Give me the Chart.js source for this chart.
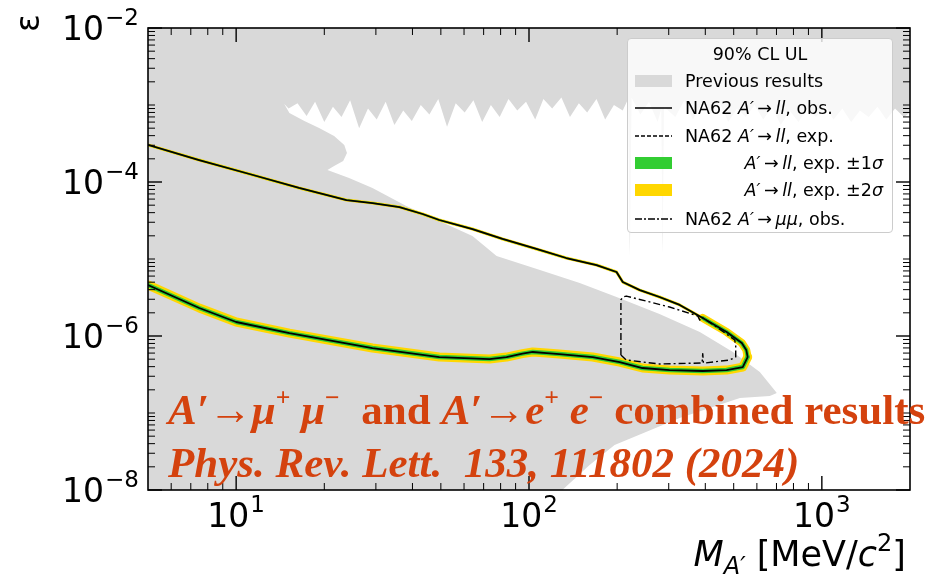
<!DOCTYPE html>
<html lang="en">
<head>
<meta charset="UTF-8">
<title>NA62 A' limits</title>
<script src="https://cdn.jsdelivr.net/npm/chart.js"></script>
<style>
  body { margin: 0; background: #fff; }
  #wrap { position: relative; width: 934px; height: 582px; }
  #legend { position: absolute; left: 627px; top: 38px; width: 266px; height: 195px; box-sizing: border-box;
            background: rgba(255,255,255,0.8); border: 1px solid #cccccc; border-radius: 4px;
            font-family: "DejaVu Sans", sans-serif; font-size: 17.5px; color: #000; }
  .row { position: absolute; left: 0; width: 100%; height: 24px; line-height: 24px; }
  .row svg { position: absolute; left: 7px; top: 4px; }
  .row .txt { position: absolute; left: 57px; white-space: nowrap; }
  .row .txt.r { left: auto; right: 9px; }
  .row .txt.c { left: 0; right: 0; text-align: center; }
  #note { position: absolute; left: 168px; top: 386px; font-family: "Liberation Serif", serif; font-weight: bold;
          font-size: 43px; line-height: 47px; color: #d4420e; white-space: nowrap; }
  #note sup { font-size: 0.6em; vertical-align: 0; position: relative; top: -0.7em; }
</style>
</head>
<body>
<div id="wrap">
  <canvas id="limitChart" width="934" height="582"></canvas>

  <div id="legend">
    <div class="row" style="top:3px"><span class="txt c">90% CL UL</span></div>
    <div class="row" style="top:30px">
      <svg width="37" height="16"><rect x="0" y="2" width="37" height="12" fill="#d9d9d9"/></svg>
      <span class="txt">Previous results</span></div>
    <div class="row" style="top:57px">
      <svg width="37" height="16"><line x1="0" y1="8" x2="37" y2="8" stroke="#000" stroke-width="1.6"/></svg>
      <span class="txt">NA62 <i>A′</i>&#8201;→&#8201;<i>ll</i>, obs.</span></div>
    <div class="row" style="top:85px">
      <svg width="37" height="16"><line x1="0" y1="8" x2="37" y2="8" stroke="#000" stroke-width="1.4" stroke-dasharray="4,2"/></svg>
      <span class="txt">NA62 <i>A′</i>&#8201;→&#8201;<i>ll</i>, exp.</span></div>
    <div class="row" style="top:112px">
      <svg width="37" height="16"><rect x="0" y="2" width="37" height="12" fill="#32cd32"/></svg>
      <span class="txt r"><i>A′</i>&#8201;→&#8201;<i>ll</i>, exp. ±1<i>σ</i></span></div>
    <div class="row" style="top:139px">
      <svg width="37" height="16"><rect x="0" y="2" width="37" height="12" fill="#ffd700"/></svg>
      <span class="txt r"><i>A′</i>&#8201;→&#8201;<i>ll</i>, exp. ±2<i>σ</i></span></div>
    <div class="row" style="top:168px">
      <svg width="37" height="16"><line x1="0" y1="8" x2="37" y2="8" stroke="#000" stroke-width="1.4" stroke-dasharray="7,2,2,2"/></svg>
      <span class="txt">NA62 <i>A′</i>&#8201;→&#8201;<i>μμ</i>, obs.</span></div>
  </div>

  <div id="note">
    <div><i>A′</i>→<i>μ</i><sup>+</sup> <i>μ</i><sup>−</sup>&nbsp; and <i>A′</i>→<i>e</i><sup>+</sup> <i>e</i><sup>−</sup> combined results</div>
    <div><i>Phys. Rev. Lett.&nbsp; 133, 111802 (2024)</i></div>
  </div>
</div>

<script>
// previous results: upper edge of the open window (noisy, beam/collider limits)
const prevTopMass = [5, 14.6, 14.6, 15.1, 16.2, 17.4, 18.6, 20.0, 21.4, 22.9, 24.5, 26.3, 28.2, 30.2, 32.4, 34.7, 37.2, 39.8, 42.7, 45.7, 49.0, 52.5, 56.2, 60.3, 64.6, 69.2, 74.1, 79.4, 85.1, 91.2, 97.7, 105, 112, 120, 129, 138, 148, 158, 170, 182, 195, 209, 218, 221, 224, 240, 257, 275, 283, 286, 289, 316, 339, 363, 389, 417, 447, 479, 513, 550, 589, 631, 676, 724, 776, 832, 891, 955, 1023, 1096, 1175, 1259, 1349, 1445, 1549, 1660, 1778, 1905, 2000];
const prevTopEps = [1e-8, 1e-8, 1.03e-3, 9.0e-4, 1.05e-3, 7.2e-4, 1.1e-3, 6.0e-4, 9.5e-4, 7.0e-4, 1.15e-3, 5.0e-4, 9.0e-4, 6.5e-4, 1.1e-3, 5.5e-4, 8.5e-4, 6.2e-4, 1.0e-3, 7.5e-4, 1.2e-3, 5.2e-4, 1.05e-3, 8.0e-4, 1.15e-3, 6.0e-4, 1.0e-3, 7.0e-4, 1.2e-3, 8.5e-4, 1.1e-3, 6.5e-4, 1.2e-3, 9.0e-4, 1.25e-3, 7.0e-4, 1.05e-3, 8.0e-4, 1.2e-3, 6.5e-4, 1.0e-3, 8.5e-4, 1.2e-3, 1.1e-5, 1.25e-3, 7.5e-4, 1.1e-3, 6.0e-4, 9.0e-4, 1.2e-5, 9.5e-4, 7.0e-4, 1.15e-3, 6.5e-4, 1.05e-3, 7.5e-4, 1.1e-3, 6.0e-4, 9.0e-4, 7.0e-4, 1.0e-3, 6.5e-4, 9.5e-4, 5.5e-4, 8.5e-4, 6.0e-4, 9.0e-4, 7.0e-4, 1.0e-3, 6.5e-4, 9.0e-4, 6.0e-4, 8.5e-4, 7.0e-4, 9.5e-4, 6.5e-4, 9.0e-4, 7.0e-4, 8.0e-4];

// previous results: lower edge of the open window (nose + beam dump band)
const prevLowMass = [5, 14.6, 15.2, 17.1, 19.2, 21.6, 23.4, 23.9, 23.2, 21.6, 20.5, 24.3, 29.2, 38.1, 49.4, 64.1, 70.5, 77.5, 109, 149, 199, 279, 383, 497, 614, 702];
const prevLowEps = [1.03e-3, 1.03e-3, 7.87e-4, 6.19e-4, 5.03e-4, 3.95e-4, 3.03e-4, 2.38e-4, 1.88e-4, 1.61e-4, 1.43e-4, 1.13e-4, 8.36e-5, 4.88e-5, 3.12e-5, 1.99e-5, 1.48e-5, 1.09e-5, 7.19e-6, 4.88e-6, 3.21e-6, 1.93e-6, 1.13e-6, 6.2e-7, 3.4e-7, 1.82e-7];

// beam dump band, lower edge (open below it)
const dumpLowMass = [130, 161, 196, 327, 525, 664, 702, 760];
const dumpLowEps = [1e-8, 2.11e-8, 3.84e-8, 8.6e-8, 1.57e-7, 1.66e-7, 1.82e-7, 1.82e-7];

// NA62 A' -> ll observed contour, upper branch up to the tip
const obsUpMass = [5, 7.47, 11.1, 16.4, 23.8, 29.2, 36.1, 43.3, 49.4, 64.1, 81.2, 106, 134, 170, 199, 209, 239, 279, 327, 392, 473, 533, 552, 558];
const obsUpEps = [3.03e-4, 1.93e-4, 1.27e-4, 8.36e-5, 5.83e-5, 5.33e-5, 4.73e-5, 3.84e-5, 3.21e-5, 2.45e-5, 1.82e-5, 1.35e-5, 1.03e-5, 8.35e-6, 6.78e-6, 5.02e-6, 3.95e-6, 3.21e-6, 2.53e-6, 1.71e-6, 1.13e-6, 8.1e-7, 6.6e-7, 5.33e-7];
// lower branch from the tip back to low mass
const obsLowMass = [558, 537, 473, 392, 302, 244, 204, 165, 127, 115, 103, 95, 83.8, 73.3, 49.4, 29.2, 15.2, 10, 7.48, 5];
const obsLowEps = [5.33e-7, 3.95e-7, 3.61e-7, 3.51e-7, 3.61e-7, 3.84e-7, 4.59e-7, 5.33e-7, 5.83e-7, 6.0e-7, 6.2e-7, 5.9e-7, 5.33e-7, 5.02e-7, 5.33e-7, 6.98e-7, 1.09e-6, 1.52e-6, 2.31e-6, 4.6e-6];

// NA62 A' -> mumu observed contour
const mumuMass = [206, 206, 209, 215, 258, 302, 377, 383, 389, 437, 504, 508, 508, 485, 398, 394, 392, 390, 279, 215, 206];
const mumuEps = [5.66e-7, 2.94e-6, 3.2e-6, 3.3e-6, 2.77e-6, 2.38e-6, 1.82e-6, 1.61e-6, 1.75e-6, 1.31e-6, 8.87e-7, 7.64e-7, 5.33e-7, 4.88e-7, 4.46e-7, 4.46e-7, 5.9e-7, 4.46e-7, 4.33e-7, 4.88e-7, 5.66e-7];

// axis ticks
const xTicks = [10, 100, 1000];
const xTickExp = ['1', '2', '3'];
const yTicks = [1e-8, 1e-6, 1e-4, 1e-2];
const yTickExp = ['−8', '−6', '−4', '−2'];

const pts = (xs, ys) => xs.map((v, i) => ({ x: v, y: ys[i] }));
const GRAY = '#d9d9d9';
const CLEAR = 'rgba(0,0,0,0)';

function fillSet(xs, ys, color, fill, order) {
  return { data: pts(xs, ys), backgroundColor: color, borderColor: CLEAR, borderWidth: 0,
           fill: fill, pointRadius: 0, order: order };
}
function lineSet(xs, ys, color, width, order, extra) {
  return Object.assign({ data: pts(xs, ys), borderColor: color, borderWidth: width, fill: false,
           pointRadius: 0, borderJoinStyle: 'round', borderCapStyle: 'round', order: order }, extra || {});
}

// minor log ticks
const xMinor = [];
for (let d = 1; d <= 1000; d *= 10) for (let m = 2; m <= 9; m++) { const v = m * d; if (v > 5 && v < 2000) xMinor.push(v); }
const yMinor = [1e-7, 1e-5, 1e-3];
for (let k = -8; k <= -3; k++) for (let m = 2; m <= 9; m++) yMinor.push(m * Math.pow(10, k));

// frame, inward ticks, tick labels and axis titles
const axisDecor = {
  id: 'axisDecor',
  afterDraw(chart) {
    const { ctx, chartArea: a, scales: { x, y } } = chart;
    const seg = (x1, y1, x2, y2) => { ctx.beginPath(); ctx.moveTo(x1, y1); ctx.lineTo(x2, y2); ctx.stroke(); };
    ctx.save();
    ctx.strokeStyle = '#000';
    ctx.lineWidth = 1.0;
    xMinor.forEach(v => { const p = x.getPixelForValue(v); seg(p, a.bottom, p, a.bottom - 7); seg(p, a.top, p, a.top + 7); });
    yMinor.forEach(v => { const p = y.getPixelForValue(v); seg(a.left, p, a.left + 7, p); seg(a.right, p, a.right - 7, p); });
    ctx.lineWidth = 1.4;
    xTicks.forEach(v => { const p = x.getPixelForValue(v); seg(p, a.bottom, p, a.bottom - 14); seg(p, a.top, p, a.top + 14); });
    yTicks.forEach(v => { const p = y.getPixelForValue(v); seg(a.left, p, a.left + 14, p); seg(a.right, p, a.right - 14, p); });
    ctx.lineWidth = 1.6;
    ctx.strokeRect(a.left, a.top, a.right - a.left, a.bottom - a.top);

    ctx.fillStyle = '#000';
    ctx.textBaseline = 'alphabetic';
    ctx.textAlign = 'left';
    const big = '33px "DejaVu Sans"', small = '23px "DejaVu Sans"';
    const pow = (exp, left, base) => {
      ctx.font = big; const w1 = ctx.measureText('10').width;
      ctx.fillText('10', left, base);
      ctx.font = small; ctx.fillText(exp, left + w1 + 1, base - 15);
    };
    const powWidth = exp => { ctx.font = big; const w1 = ctx.measureText('10').width; ctx.font = small; return w1 + 1 + ctx.measureText(exp).width; };
    xTicks.forEach((v, i) => { const p = x.getPixelForValue(v); pow(xTickExp[i], p - powWidth(xTickExp[i]) / 2, a.bottom + 37); });
    yTicks.forEach((v, i) => { const p = y.getPixelForValue(v); pow(yTickExp[i], a.left - 9 - powWidth(yTickExp[i]), p + 12); });

    // x title: M_{A'} [MeV/c^2]
    const runs = [['M', 'italic 35px "DejaVu Sans"', 0], ['A′', 'italic 24px "DejaVu Sans"', 8],
                  [' [MeV/', '35px "DejaVu Sans"', 0], ['c', 'italic 35px "DejaVu Sans"', 0],
                  ['2', '24px "DejaVu Sans"', -15], [']', '35px "DejaVu Sans"', 0]];
    let total = 0;
    runs.forEach(r => { ctx.font = r[1]; total += ctx.measureText(r[0]).width; });
    let cx = a.right - 4 - total;
    runs.forEach(r => { ctx.font = r[1]; ctx.fillText(r[0], cx, 566 + r[2]); cx += ctx.measureText(r[0]).width; });

    // y title (rotated epsilon at the top)
    ctx.translate(30, 23);
    ctx.rotate(-Math.PI / 2);
    ctx.font = '33px "DejaVu Sans"';
    ctx.textAlign = 'center';
    ctx.textBaseline = 'middle';
    ctx.fillText('ε', 0, 0);
    ctx.restore();
  }
};

const config = {
  type: 'line',
  data: {
    datasets: [
      fillSet(prevTopMass, prevTopEps, GRAY, 'end', 20),
      fillSet(prevLowMass, prevLowEps, GRAY, 'start', 19),
      fillSet(dumpLowMass, dumpLowEps, '#ffffff', 'start', 18),
      lineSet(obsLowMass, obsLowEps, '#ffd700', 9, 12),
      lineSet(obsUpMass, obsUpEps, '#ffd700', 3, 12, { segment: { borderWidth: c => c.p0.parsed.x > 380 ? 8 : 3 } }),
      lineSet(obsLowMass, obsLowEps, '#32cd32', 4.5, 11),
      lineSet(obsUpMass, obsUpEps, '#32cd32', 1.5, 11, { segment: { borderWidth: c => c.p0.parsed.x > 380 ? 4 : 1.5 } }),
      lineSet(obsUpMass.concat(obsLowMass), obsUpEps.concat(obsLowEps), '#000000', 1.8, 5),
      lineSet(mumuMass, mumuEps, '#000000', 1.4, 4, { borderDash: [7, 3, 2, 3], borderCapStyle: 'butt' })
    ]
  },
  options: {
    responsive: false,
    animation: false,
    layout: { padding: { left: 148, right: 24, top: 28, bottom: 92 } },
    scales: {
      x: { type: 'logarithmic', min: 5, max: 2000, display: false },
      y: { type: 'logarithmic', min: 1e-8, max: 1e-2, display: false }
    },
    plugins: { legend: { display: false }, tooltip: { enabled: false } }
  },
  plugins: [axisDecor]
};

const limitChart = new Chart(document.getElementById('limitChart'), config);
</script>
</body>
</html>
